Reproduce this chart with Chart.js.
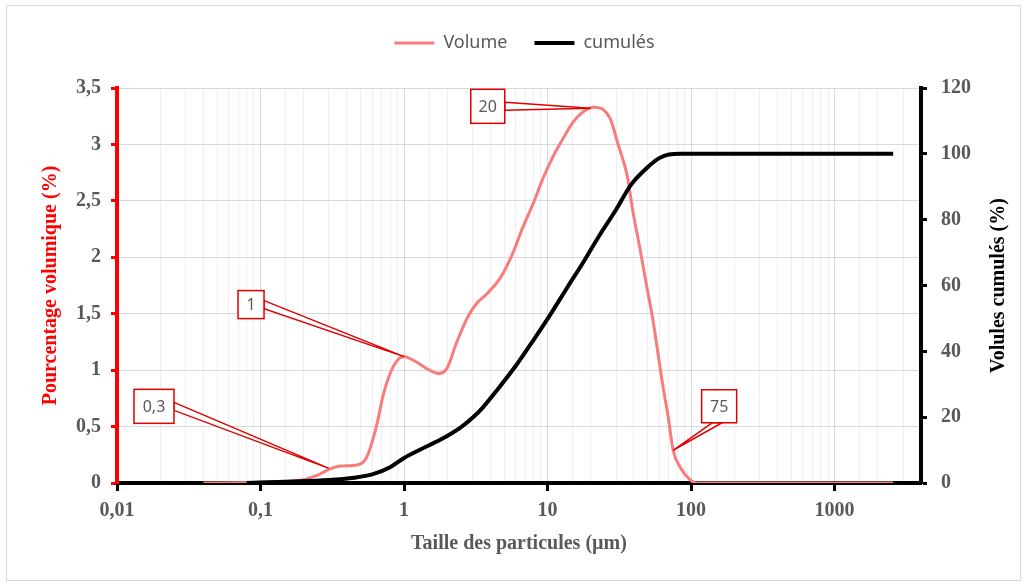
<!DOCTYPE html>
<html>
<head>
<meta charset="utf-8">
<script src="https://cdn.jsdelivr.net/npm/chart.js@4"></script>
<style>
body { margin: 0; background: #fff; }
#wrap { position: relative; width: 1027px; height: 584px; }
#frame { position: absolute; left: 6px; top: 5px; width: 1013px; height: 574px; border: 1px solid #d9d9d9; pointer-events: none; }
</style>
</head>
<body>
<div id="wrap">
  <canvas id="grainChart" width="1027" height="584"></canvas>
  <div id="frame"></div>
</div>
<script>
// particle size (µm) and volume percentage
const volSizes = [0.04, 0.07, 0.1, 0.15, 0.2, 0.25, 0.3, 0.36, 0.47, 0.55, 0.65, 0.71, 0.8, 0.89, 1.0, 1.15, 1.3, 1.5, 1.75, 2.0, 2.3, 2.75, 3.2, 3.8, 4.7, 5.7, 6.7, 7.9, 9.3, 10.9, 12.8, 15.1, 17.7, 21, 24.4, 27.3, 31, 35.8, 39.4, 44, 49.3, 54.3, 58, 63.8, 69, 75, 84, 98, 110, 2560]
const volPercent = [0, 0.002, 0.005, 0.012, 0.03, 0.07, 0.12, 0.15, 0.16, 0.23, 0.53, 0.76, 0.97, 1.08, 1.12, 1.09, 1.05, 1.0, 0.97, 1.02, 1.23, 1.46, 1.59, 1.68, 1.82, 2.03, 2.26, 2.47, 2.7, 2.89, 3.05, 3.2, 3.29, 3.33, 3.31, 3.23, 3.0, 2.73, 2.4, 2.08, 1.73, 1.44, 1.2, 0.85, 0.6, 0.29, 0.14, 0.03, 0, 0]

// cumulated volume (%)
const cumSizes = [0.08, 0.15, 0.3, 0.45, 0.6, 0.8, 1.0, 1.3, 1.8, 2.5, 3.0, 3.55, 4.5, 6.1, 8, 10.4, 14, 17.7, 23.2, 30, 38, 50, 60, 70, 85, 2560]
const cumPercent = [0, 0.4, 0.9, 1.6, 2.6, 4.8, 7.6, 10.2, 13.2, 17, 19.8, 23, 28.5, 36, 43.5, 51, 60, 67, 75.5, 83, 90.5, 96, 98.7, 99.8, 100, 100]

// callouts on the volume curve
const calloutLabels = ['0,3', '1', '20', '75']
const calloutSizes = [0.3, 1, 20, 75]
const calloutValues = [0.13, 1.12, 3.32, 0.29]

const serif = "'Liberation Serif', 'Times New Roman', serif"
const grey = '#595959'
const axisFont = { family: serif, size: 20, weight: 'bold' }

const isDecade = v => {
    const l = Math.log10(v)
    return Math.abs(l - Math.round(l)) < 1e-6
}
const comma = v => String(v).replace('.', ',')

// box offsets from the pointed value, in px
const calloutBoxes = [
    { dx: -175, dy: -62, w: 40, h: 34, side: 'right' },
    { dx: -153, dy: -52, w: 26, h: 28, side: 'right' },
    { dx: -103, dy: -2, w: 34, h: 34, side: 'right' },
    { dx: 46, dy: -44, w: 35, h: 33, side: 'bottom' }
]

// leave more room under the legend
const legendSpacer = {
    id: 'legendSpacer',
    beforeInit(chart) {
        const fit = chart.legend.fit
        chart.legend.fit = function () {
            fit.bind(chart.legend)()
            this.height += 26
        }
    }
}

const overlays = {
    id: 'overlays',
    afterDraw(chart) {
        const ctx = chart.ctx
        const xs = chart.scales.x
        const ys = chart.scales.y
        ctx.save()
        calloutLabels.forEach((label, i) => {
            const px = xs.getPixelForValue(calloutSizes[i])
            const py = ys.getPixelForValue(calloutValues[i])
            const b = calloutBoxes[i]
            const cx = px + b.dx
            const cy = py + b.dy
            const left = cx - b.w / 2
            const top = cy - b.h / 2
            let p1, p2
            if (b.side === 'right') {
                p1 = [left + b.w, cy - 4]
                p2 = [left + b.w, cy + 4]
            } else {
                p1 = [cx - 7, top + b.h]
                p2 = [cx + 3, top + b.h]
            }
            ctx.beginPath()
            ctx.moveTo(p1[0], p1[1])
            ctx.lineTo(px, py)
            ctx.lineTo(p2[0], p2[1])
            ctx.closePath()
            ctx.fillStyle = '#fff'
            ctx.fill()
            ctx.strokeStyle = '#e00000'
            ctx.lineWidth = 1.5
            ctx.stroke()
            ctx.fillStyle = '#fff'
            ctx.fillRect(left, top, b.w, b.h)
            ctx.strokeRect(left, top, b.w, b.h)
            ctx.fillStyle = grey
            ctx.font = "16px 'Noto Sans'"
            ctx.textAlign = 'center'
            ctx.textBaseline = 'middle'
            ctx.fillText(label, cx, cy + 1)
        })
        // right axis title, read bottom to top
        const area = chart.chartArea
        ctx.translate(999, (area.top + area.bottom) / 2)
        ctx.rotate(-Math.PI / 2)
        ctx.fillStyle = '#000'
        ctx.font = 'bold 20px ' + serif
        ctx.textAlign = 'center'
        ctx.textBaseline = 'middle'
        ctx.fillText('Volules cumulés (%)', 0, 0)
        ctx.restore()
    }
}

const grainctx = document.getElementById('grainChart').getContext('2d')
const grainChart = new Chart(grainctx, {
    type: 'line',
    data: {
        datasets: [{
            label: 'Volume',
            data: volSizes.map((s, i) => ({ x: s, y: volPercent[i] })),
            borderColor: '#f87c7c',
            backgroundColor: '#f87c7c',
            borderWidth: 3,
            pointRadius: 0,
            cubicInterpolationMode: 'monotone',
            yAxisID: 'y',
            order: 1
        }, {
            label: 'cumulés',
            data: cumSizes.map((s, i) => ({ x: s, y: cumPercent[i] })),
            borderColor: '#000',
            backgroundColor: '#000',
            borderWidth: 4,
            pointRadius: 0,
            cubicInterpolationMode: 'monotone',
            yAxisID: 'y2',
            order: 0
        }]
    },
    options: {
        responsive: false,
        animation: false,
        layout: { padding: { top: 7, left: 22, right: 0, bottom: 0 } },
        plugins: {
            tooltip: { enabled: false },
            legend: {
                position: 'top',
                labels: {
                    usePointStyle: true,
                    pointStyle: 'line',
                    pointStyleWidth: 40,
                    padding: 27,
                    color: grey,
                    font: { family: "'Noto Sans'", size: 18 },
                    sort: (a, b) => a.datasetIndex - b.datasetIndex
                }
            }
        },
        scales: {
            x: {
                type: 'logarithmic',
                min: 0.01,
                max: 4000,
                afterFit: s => { s.height = 101 },
                border: { color: '#000', width: 4 },
                grid: {
                    color: c => c.tick && isDecade(c.tick.value) ? '#d9d9d9' : '#efefef',
                    tickColor: c => c.tick && isDecade(c.tick.value) && c.tick.value <= 1000 ? '#000' : 'rgba(0,0,0,0)',
                    tickLength: 8,
                    tickWidth: 3
                },
                ticks: {
                    autoSkip: false,
                    maxRotation: 0,
                    padding: 8,
                    color: grey,
                    font: axisFont,
                    callback: v => isDecade(v) && v <= 1000 ? comma(v) : ''
                },
                title: {
                    display: true,
                    text: 'Taille des particules (µm)',
                    color: grey,
                    font: axisFont,
                    padding: { top: 0, bottom: 28 }
                }
            },
            y: {
                position: 'left',
                min: 0,
                max: 3.5,
                afterFit: s => { s.width = 95 },
                border: { color: '#ff0000', width: 4 },
                grid: { color: '#d9d9d9', tickColor: '#ff0000', tickLength: 6, tickWidth: 3 },
                ticks: { stepSize: 0.5, padding: 10, color: grey, font: axisFont, callback: v => comma(v) },
                title: {
                    display: true,
                    text: 'Pourcentage volumique (%)',
                    color: '#ff0000',
                    font: axisFont,
                    padding: { top: 17, bottom: 0 }
                }
            },
            y2: {
                position: 'right',
                min: 0,
                max: 120,
                afterFit: s => { s.width = 106 },
                border: { color: '#000', width: 4 },
                grid: { drawOnChartArea: false, tickColor: '#000', tickLength: 6, tickWidth: 3 },
                ticks: { stepSize: 20, padding: 14, color: grey, font: axisFont }
            }
        }
    },
    plugins: [legendSpacer, overlays]
});
</script>
</body>
</html>
